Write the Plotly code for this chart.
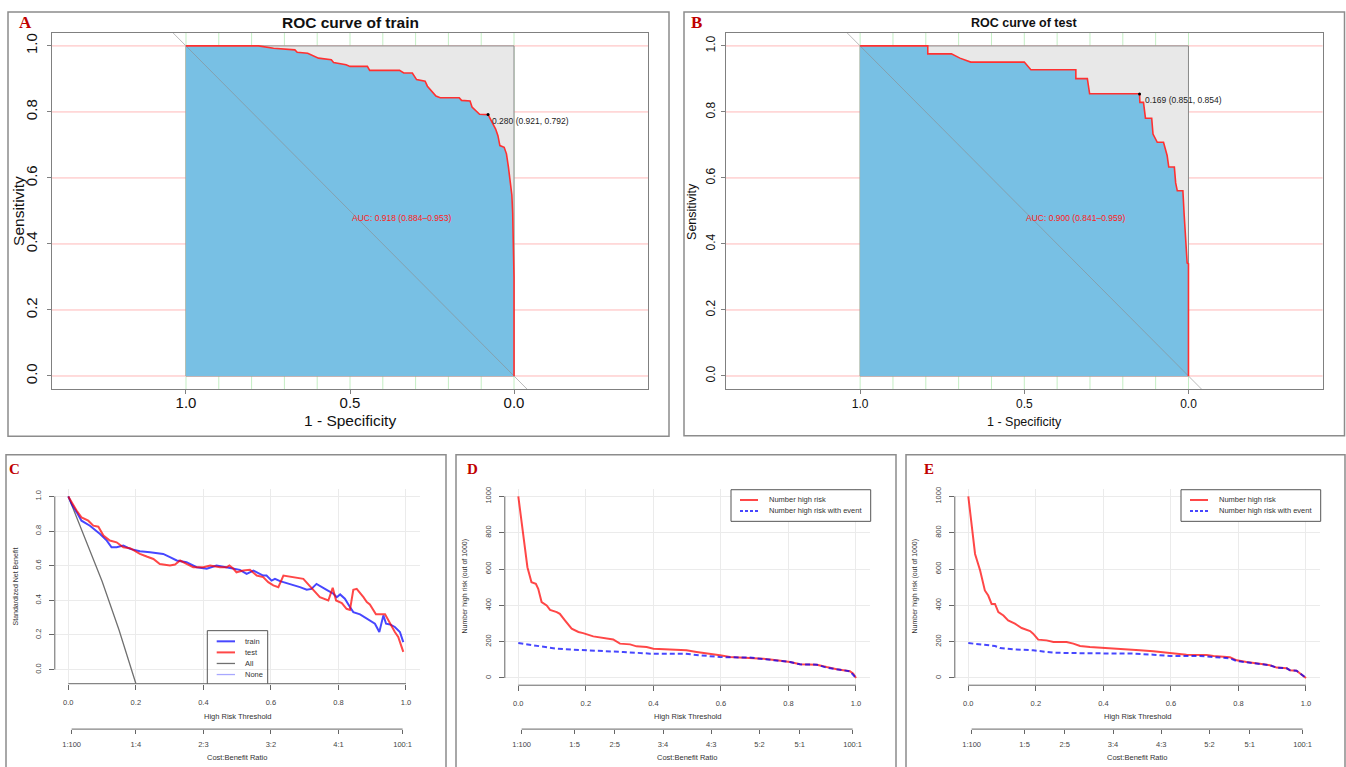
import plotly.graph_objects as go

# ---------------- data ----------------
# ROC (x axis = value shown on the reversed "1 - Specificity" axis)
roc_train_x = [1.0, 0.779, 0.733, 0.668, 0.661, 0.629, 0.596, 0.557, 0.55, 0.512, 0.5, 0.447, 0.44,
               0.349, 0.336, 0.31, 0.297, 0.271, 0.264, 0.251, 0.238, 0.225, 0.167, 0.16, 0.134,
               0.128, 0.111, 0.105, 0.079, 0.069, 0.056, 0.049, 0.043, 0.030, 0.023, 0.017, 0.010,
               0.0065, 0.004, 0.001, 0.0, 0.0]
roc_train_y = [1.0, 1.0, 0.993, 0.988, 0.981, 0.978, 0.963, 0.958, 0.95, 0.943, 0.938, 0.938, 0.926,
               0.926, 0.918, 0.918, 0.898, 0.893, 0.878, 0.863, 0.848, 0.843, 0.843, 0.835, 0.833,
               0.815, 0.798, 0.793, 0.792, 0.773, 0.748, 0.728, 0.698, 0.693, 0.673, 0.633, 0.583,
               0.548, 0.493, 0.322, 0.30, 0.0]
roc_test_x = [1.0, 0.794, 0.794, 0.722, 0.696, 0.663, 0.500, 0.480, 0.343, 0.343, 0.308, 0.304, 0.301,
              0.149, 0.148, 0.137, 0.134, 0.131, 0.112, 0.108, 0.095, 0.076, 0.065, 0.060, 0.043,
              0.039, 0.034, 0.017, 0.013, 0.008, 0.004, 0.0, 0.0]
roc_test_y = [1.0, 1.0, 0.976, 0.976, 0.963, 0.951, 0.951, 0.928, 0.928, 0.901, 0.901, 0.878, 0.855,
              0.855, 0.829, 0.829, 0.804, 0.781, 0.781, 0.733, 0.708, 0.708, 0.668, 0.633, 0.633,
              0.585, 0.561, 0.561, 0.487, 0.392, 0.342, 0.34, 0.0]
best_train = (0.079, 0.792)
best_train_label = "0.280 (0.921, 0.792)"
best_test = (0.149, 0.854)
best_test_label = "0.169 (0.851, 0.854)"
auc_train_label = "AUC: 0.918 (0.884–0.953)"
auc_test_label = "AUC: 0.900 (0.841–0.959)"

# Decision curves (panel C)
dca_train_x = [0, 0.01, 0.025, 0.039, 0.064, 0.094, 0.114, 0.128, 0.143, 0.163, 0.183, 0.212, 0.242,
               0.281, 0.301, 0.321, 0.350, 0.380, 0.41, 0.439, 0.479, 0.508, 0.528, 0.548, 0.577,
               0.587, 0.602, 0.612, 0.627, 0.656, 0.686, 0.706, 0.72, 0.735, 0.75, 0.765, 0.785,
               0.795, 0.805, 0.819, 0.834, 0.844, 0.864, 0.884, 0.908, 0.921, 0.933, 0.941, 0.953,
               0.967, 0.982, 0.992]
dca_train_y = [1.0, 0.956, 0.908, 0.86, 0.831, 0.783, 0.745, 0.706, 0.706, 0.716, 0.697, 0.683, 0.678,
               0.668, 0.649, 0.630, 0.620, 0.591, 0.582, 0.601, 0.587, 0.576, 0.553, 0.572, 0.543,
               0.543, 0.514, 0.524, 0.511, 0.495, 0.476, 0.461, 0.466, 0.495, 0.476, 0.461, 0.438,
               0.418, 0.434, 0.409, 0.361, 0.332, 0.319, 0.294, 0.265, 0.217, 0.313, 0.265, 0.261,
               0.246, 0.217, 0.159]
dca_test_x = [0, 0.01, 0.025, 0.039, 0.059, 0.074, 0.089, 0.104, 0.123, 0.143, 0.163, 0.183, 0.197,
              0.212, 0.232, 0.252, 0.271, 0.301, 0.316, 0.331, 0.350, 0.370, 0.4, 0.42, 0.449, 0.469,
              0.477, 0.489, 0.498, 0.518, 0.538, 0.558, 0.577, 0.592, 0.607, 0.622, 0.637, 0.666,
              0.696, 0.72, 0.745, 0.77, 0.783, 0.793, 0.81, 0.824, 0.834, 0.844, 0.854, 0.874,
              0.884, 0.893, 0.911, 0.938, 0.953, 0.967, 0.977, 0.992]
dca_test_y = [1.0, 0.965, 0.917, 0.879, 0.86, 0.831, 0.825, 0.774, 0.745, 0.735, 0.706, 0.701, 0.687,
              0.668, 0.653, 0.639, 0.610, 0.601, 0.607, 0.630, 0.610, 0.591, 0.591, 0.601, 0.591,
              0.591, 0.601, 0.582, 0.562, 0.572, 0.576, 0.543, 0.534, 0.505, 0.486, 0.476, 0.543,
              0.534, 0.524, 0.472, 0.418, 0.399, 0.472, 0.399, 0.384, 0.351, 0.345, 0.461, 0.466,
              0.418, 0.390, 0.376, 0.319, 0.319, 0.265, 0.217, 0.188, 0.102]
dca_all_x = [0, 0.05, 0.1, 0.15, 0.2]
dca_all_y = [1.0, 0.76, 0.51, 0.23, -0.08]
dca_legend = ["train", "test", "All", "None"]

# Clinical impact curves (panel D = train, panel E = test)
cic_d_x = [0, 0.01, 0.02, 0.027, 0.039, 0.052, 0.059, 0.069, 0.084, 0.094, 0.114, 0.123, 0.138, 0.158,
           0.178, 0.192, 0.222, 0.252, 0.281, 0.301, 0.331, 0.35, 0.38, 0.4, 0.439, 0.498, 0.528,
           0.567, 0.597, 0.627, 0.666, 0.726, 0.765, 0.805, 0.834, 0.884, 0.913, 0.943, 0.982, 0.992, 1.0]
cic_d_risk = [1000, 848, 701, 610, 527, 518, 491, 418, 399, 375, 363, 353, 317, 271, 253, 247, 229, 222,
              212, 189, 185, 174, 170, 161, 156, 152, 143, 134, 125, 115, 112, 106, 97, 88, 75, 73, 60,
              48, 37, 24, 0]
cic_d_ex = [0, 0.035, 0.074, 0.114, 0.163, 0.212, 0.281, 0.311, 0.39, 0.489, 0.538, 0.597, 0.686,
            0.745, 0.805, 0.834, 0.884, 0.913, 0.943, 0.982, 1.0]
cic_d_event = [192, 183, 170, 161, 156, 152, 148, 143, 134, 134, 125, 115, 112, 102, 88, 75, 73, 57,
               48, 37, 0]
cic_e_x = [0, 0.01, 0.02, 0.035, 0.049, 0.059, 0.069, 0.079, 0.089, 0.104, 0.118, 0.138, 0.158, 0.183,
           0.192, 0.207, 0.232, 0.252, 0.291, 0.311, 0.331, 0.36, 0.39, 0.41, 0.469, 0.508, 0.548,
           0.587, 0.627, 0.646, 0.706, 0.726, 0.775, 0.795, 0.824, 0.854, 0.874, 0.893, 0.913, 0.943,
           0.953, 0.972, 1.0]
cic_e_risk = [1000, 830, 683, 592, 482, 454, 408, 408, 363, 344, 317, 299, 275, 258, 244, 211, 207,
              198, 198, 189, 176, 170, 167, 161, 158, 152, 147, 141, 134, 128, 126, 121, 114, 97, 88,
              82, 75, 70, 57, 53, 42, 40, 0]
cic_e_ex = [0, 0.035, 0.079, 0.094, 0.133, 0.192, 0.212, 0.252, 0.35, 0.489, 0.548, 0.597, 0.686,
            0.726, 0.775, 0.795, 0.824, 0.854, 0.874, 0.893, 0.913, 0.943, 0.953, 0.972, 1.0]
cic_e_event = [192, 185, 176, 165, 158, 152, 147, 139, 136, 134, 128, 121, 121, 114, 108, 93, 86, 82,
               75, 70, 57, 53, 42, 40, 0]
cic_legend = ["Number high risk", "Number high risk with event"]

thr_ticks = [0, 0.2, 0.4, 0.6, 0.8, 1.0]
thr_text = ["0.0", "0.2", "0.4", "0.6", "0.8", "1.0"]
cb_ticks_c = [0.0099, 0.2, 0.4, 0.6, 0.8, 0.99]
cb_text_c = ["1:100", "1:4", "2:3", "3:2", "4:1", "100:1"]
cb_ticks_de = [0.0099, 1 / 6, 2 / 7, 3 / 7, 4 / 7, 5 / 7, 5 / 6, 0.99]
cb_text_de = ["1:100", "1:5", "2:5", "3:4", "4:3", "5:2", "5:1", "100:1"]
nb_ticks = [0, 0.2, 0.4, 0.6, 0.8, 1.0]
nb_text = ["0.0", "0.2", "0.4", "0.6", "0.8", "1.0"]
n_ticks = [0, 200, 400, 600, 800, 1000]
n_text = ["0", "200", "400", "600", "800", "1000"]
roc_x_ticks = [1.0, 0.5, 0.0]
roc_x_text = ["1.0", "0.5", "0.0"]
roc_y_ticks = [0, 0.2, 0.4, 0.6, 0.8, 1.0]
roc_y_text = ["0.0", "0.2", "0.4", "0.6", "0.8", "1.0"]

# ---------------- helpers ----------------
W, H = 1346, 767
SANS = "Liberation Sans, Arial, sans-serif"
SERIF = "Liberation Serif, Times New Roman, serif"


def px(x):
    return x / W


def py(y):
    return 1 - y / H


fig = go.Figure()
shapes = []
annotations = []

BLUE_FILL = "#78C0E4"
GREY_FILL = "#E8E8E8"


def roc_panel(n, rx, ry, best, best_label, auc_label, lab_pos, fs_small):
    xa = "x" if n == 1 else f"x{n}"
    ya = "y" if n == 1 else f"y{n}"
    for i in range(11):
        v = i / 10
        shapes.append(dict(type="line", xref=xa, yref=f"{ya} domain", x0=v, x1=v, y0=0, y1=1,
                           line=dict(color="#C4EEC4", width=1), layer="below"))
    for v in roc_y_ticks:
        shapes.append(dict(type="line", xref=f"{xa} domain", yref=ya, x0=0, x1=1, y0=v, y1=v,
                           line=dict(color="#FFB8B8", width=1), layer="below"))
    shapes.append(dict(type="rect", xref=xa, yref=ya, x0=0, x1=1, y0=0, y1=1,
                       fillcolor=GREY_FILL, line=dict(color="#8A8A8A", width=1), layer="below"))
    fig.add_trace(go.Scatter(x=rx + [1.0], y=ry + [0.0], fill="toself", fillcolor=BLUE_FILL,
                             mode="lines", line=dict(width=0), xaxis=xa, yaxis=ya,
                             showlegend=False, hoverinfo="skip"))
    fig.add_trace(go.Scatter(x=[1.1, -0.1], y=[1.1, -0.1], mode="lines",
                             line=dict(color="rgba(140,140,140,0.6)", width=1),
                             xaxis=xa, yaxis=ya, showlegend=False, hoverinfo="skip"))
    fig.add_trace(go.Scatter(x=rx, y=ry, mode="lines", line=dict(color="#FF3030", width=1.6),
                             xaxis=xa, yaxis=ya, showlegend=False))
    fig.add_trace(go.Scatter(x=[best[0]], y=[best[1]], mode="markers",
                             marker=dict(color="black", size=3), xaxis=xa, yaxis=ya,
                             showlegend=False))
    annotations.append(dict(xref=xa, yref=ya, x=lab_pos[0], y=lab_pos[1], text=best_label,
                            showarrow=False, xanchor="left", yanchor="middle",
                            font=dict(family=SANS, size=fs_small, color="#222")))
    annotations.append(dict(xref=xa, yref=ya, x=0.5, y=0.5, text=auc_label, showarrow=False,
                            xanchor="left", yanchor="top",
                            font=dict(family=SANS, size=fs_small, color="#FF2020")))


roc_panel(1, roc_train_x, roc_train_y, best_train, best_train_label, auc_train_label,
          (0.072, 0.772), 8.5)
roc_panel(2, roc_test_x, roc_test_y, best_test, best_test_label, auc_test_label,
          (0.140, 0.835), 8.5)

# ---- panel C
fig.add_trace(go.Scatter(x=dca_all_x, y=dca_all_y, mode="lines", line=dict(color="#707070", width=1.3),
                         xaxis="x3", yaxis="y3", showlegend=False))
fig.add_trace(go.Scatter(x=dca_train_x, y=dca_train_y, mode="lines",
                         line=dict(color="rgba(0,0,255,0.72)", width=2), xaxis="x3", yaxis="y3",
                         showlegend=False))
fig.add_trace(go.Scatter(x=dca_test_x, y=dca_test_y, mode="lines",
                         line=dict(color="rgba(255,0,0,0.72)", width=2), xaxis="x3", yaxis="y3",
                         showlegend=False))

# ---- panels D / E
for xa, ya, xs, rs, xe, es in [("x4", "y4", cic_d_x, cic_d_risk, cic_d_ex, cic_d_event),
                               ("x5", "y5", cic_e_x, cic_e_risk, cic_e_ex, cic_e_event)]:
    fig.add_trace(go.Scatter(x=xs, y=rs, mode="lines", line=dict(color="rgba(255,0,0,0.72)", width=2),
                             xaxis=xa, yaxis=ya, showlegend=False))
    fig.add_trace(go.Scatter(x=xe, y=es, mode="lines",
                             line=dict(color="rgba(0,0,255,0.72)", width=2, dash="5px,3px"),
                             xaxis=xa, yaxis=ya, showlegend=False))

# empty traces so that the Cost:Benefit axes get drawn
for k in [3, 4, 5]:
    fig.add_trace(go.Scatter(x=[None], y=[None], xaxis=f"x{k + 3}", yaxis=f"y{k}",
                             showlegend=False, hoverinfo="skip"))

# ---------------- axes ----------------
def roc_axes(fs, xstand, ystand):
    common = dict(showline=True, mirror=True, linecolor="#808080", linewidth=1, ticks="outside",
                  ticklen=4, tickcolor="#808080", showgrid=False, zeroline=False,
                  tickfont=dict(family=SANS, size=fs, color="#111"))
    xa = dict(common, range=[1.4085, -0.4085], tickvals=roc_x_ticks, ticktext=roc_x_text,
              ticklabelstandoff=xstand)
    ya = dict(common, range=[-0.04, 1.04], tickvals=roc_y_ticks, ticktext=roc_y_text,
              tickangle=-90, ticklabelstandoff=ystand)
    return xa, ya


xa1, ya1 = roc_axes(15, -4, 4)
xa2, ya2 = roc_axes(12, -1, 1)
layout_axes = {}
layout_axes["xaxis"] = dict(xa1, domain=[px(52), px(648)], anchor="y")
layout_axes["yaxis"] = dict(ya1, domain=[py(388.2), py(30.8)], anchor="x")
layout_axes["xaxis2"] = dict(xa2, domain=[px(726), px(1322.6)], anchor="y2")
layout_axes["yaxis2"] = dict(ya2, domain=[py(388.2), py(30.8)], anchor="x2")

small = dict(family=SANS, size=7.5, color="#444")
for k, (l, r) in zip([3, 4, 5], [(54.8, 419.5), (504.8, 869.5), (954.8, 1319.5)]):
    layout_axes[f"xaxis{k}"] = dict(domain=[px(l), px(r)], range=[-0.04, 1.04], anchor=f"y{k}",
                                    tickvals=thr_ticks, ticktext=thr_text, ticks="outside",
                                    ticklen=5, tickcolor="#666", showline=False, zeroline=False,
                                    showgrid=True, gridcolor="#EBEBEB", gridwidth=1,
                                    tickfont=small, ticklabelstandoff=6)
    cbt, cbx = (cb_ticks_c, cb_text_c) if k == 3 else (cb_ticks_de, cb_text_de)
    layout_axes[f"xaxis{k + 3}"] = dict(domain=[px(l), px(r)], range=[-0.04, 1.04],
                                        overlaying=f"x{k}", anchor="free", position=py(729),
                                        side="bottom", tickvals=cbt, ticktext=cbx, ticks="outside",
                                        ticklen=4, tickcolor="#666", showline=False,
                                        zeroline=False, showgrid=False, tickfont=small,
                                        ticklabelstandoff=4)
layout_axes["yaxis3"] = dict(domain=[py(683.5), py(488.5)], range=[-0.0816, 1.0416], anchor="x3",
                             tickvals=nb_ticks, ticktext=nb_text)
layout_axes["yaxis4"] = dict(domain=[py(685), py(488.4)], range=[-40, 1040], anchor="x4",
                             tickvals=n_ticks, ticktext=n_text)
layout_axes["yaxis5"] = dict(domain=[py(685), py(488.4)], range=[-40, 1040], anchor="x5",
                             tickvals=n_ticks, ticktext=n_text)
for k in [3, 4, 5]:
    layout_axes[f"yaxis{k}"].update(ticks="outside", ticklen=5, tickcolor="#666", showline=False,
                                    zeroline=False, showgrid=True, gridcolor="#EBEBEB",
                                    tickfont=small, tickangle=-90, ticklabelstandoff=5)

# R-style axis lines for C/D/E
for k, top in [(3, 1.0), (4, 1000), (5, 1000)]:
    shapes.append(dict(type="line", xref=f"x{k}", yref=f"y{k} domain", x0=0, x1=1, y0=0, y1=0,
                       line=dict(color="#666", width=1)))
    shapes.append(dict(type="line", xref=f"x{k} domain", yref=f"y{k}", x0=0, x1=0, y0=0, y1=top,
                       line=dict(color="#666", width=1)))
    shapes.append(dict(type="line", xref=f"x{k}", yref="paper", x0=0.0099, x1=0.99, y0=py(729),
                       y1=py(729), line=dict(color="#666", width=1)))

# ---------------- panel frames and letters ----------------
FRAME = dict(color="#8C8C8C", width=1.5)
shapes.append(dict(type="rect", xref="paper", yref="paper", x0=px(8), x1=px(669), y0=py(435.5),
                   y1=py(10), line=FRAME))
shapes.append(dict(type="rect", xref="paper", yref="paper", x0=px(684), x1=px(1344.5), y0=py(435),
                   y1=py(10), line=FRAME))
for l, r in [(6, 446), (456, 896), (906, 1345)]:
    shapes.append(dict(type="path", xref="paper", yref="paper",
                       path=f"M {px(l)} {py(772)} L {px(l)} {py(454)} L {px(r)} {py(454)} L {px(r)} {py(772)}",
                       line=FRAME))

for letter, x, y, s in [("A", 25, 21, 17), ("B", 696, 21, 17), ("C", 14, 468, 15), ("D", 473, 468, 15),
                        ("E", 929, 468, 15)]:
    annotations.append(dict(xref="paper", yref="paper", x=px(x), y=py(y), text=f"<b>{letter}</b>",
                            showarrow=False, xanchor="center", yanchor="middle",
                            font=dict(family=SERIF, size=s, color="#C00000")))


def ann(x, y, text, size, angle=0, bold=False, color="#111"):
    annotations.append(dict(xref="paper", yref="paper", x=px(x), y=py(y),
                            text=f"<b>{text}</b>" if bold else text, showarrow=False,
                            xanchor="center", yanchor="middle", textangle=angle,
                            font=dict(family=SANS, size=size, color=color)))


ann(350, 21, "ROC curve of train", 15.5, bold=True)
ann(350, 420, "1 - Specificity", 15.5)
ann(19, 209.5, "Sensitivity", 15.5, angle=-90)
ann(1024, 21, "ROC curve of test", 12.5, bold=True)
ann(1024, 421, "1 - Specificity", 12.5)
ann(692, 209.5, "Sensitivity", 12.5, angle=-90)

for off, ylab in [(0, "Standardized Net Benefit"), (450, "Number high risk (out of 1000)"),
                  (900, "Number high risk (out of 1000)")]:
    cx = 237 + off
    ann(cx, 716, "High Risk Threshold", 7.5, color="#333")
    ann(cx, 757.5, "Cost:Benefit Ratio", 7.5, color="#333")
    ann(15 + off, 586, ylab, 7, angle=-90, color="#333")

# ---------------- manual legends ----------------
shapes.append(dict(type="path", xref="paper", yref="paper",
                   path=f"M {px(207.3)} {py(683.5)} L {px(207.3)} {py(630.3)} L {px(267.7)} {py(630.3)} L {px(267.7)} {py(683.5)}",
                   line=dict(color="#555", width=1)))
leg_cols = ["rgba(0,0,255,0.72)", "rgba(255,0,0,0.72)", "#707070", "#A8A8FF"]
for i, (name, col) in enumerate(zip(dca_legend, leg_cols)):
    yy = 641 + i * 11.1
    shapes.append(dict(type="line", xref="paper", yref="paper", x0=px(216.7), x1=px(235), y0=py(yy),
                       y1=py(yy), line=dict(color=col, width=2 if i < 2 else 1.3)))
    annotations.append(dict(xref="paper", yref="paper", x=px(243), y=py(yy), text=name,
                            showarrow=False, xanchor="left", yanchor="middle",
                            font=dict(family=SANS, size=7.5, color="#333")))

for off in [0, 450]:
    shapes.append(dict(type="rect", xref="paper", yref="paper", x0=px(731 + off), x1=px(870.7 + off),
                       y0=py(520.7), y1=py(489), line=dict(color="#555", width=1), fillcolor="white"))
    shapes.append(dict(type="line", xref="paper", yref="paper", x0=px(740 + off), x1=px(758 + off),
                       y0=py(499.3), y1=py(499.3), line=dict(color="rgba(255,0,0,0.72)", width=2)))
    shapes.append(dict(type="line", xref="paper", yref="paper", x0=px(740 + off), x1=px(758 + off),
                       y0=py(510.3), y1=py(510.3),
                       line=dict(color="rgba(0,0,255,0.72)", width=2, dash="3px,2px")))
    for j, yy in enumerate([499.3, 510.3]):
        annotations.append(dict(xref="paper", yref="paper", x=px(766.7 + off), y=py(yy),
                                text=cic_legend[j], showarrow=False, xanchor="left",
                                yanchor="middle", font=dict(family=SANS, size=7.5, color="#333")))

fig.update_layout(width=W, height=H, margin=dict(l=0, r=0, t=0, b=0), paper_bgcolor="white",
                  plot_bgcolor="white", showlegend=False, shapes=shapes, annotations=annotations,
                  **layout_axes)

fig.write_html("out.html", config={"displayModeBar": False},
               post_script="document.body.style.margin='0px';document.body.style.padding='0px';")
